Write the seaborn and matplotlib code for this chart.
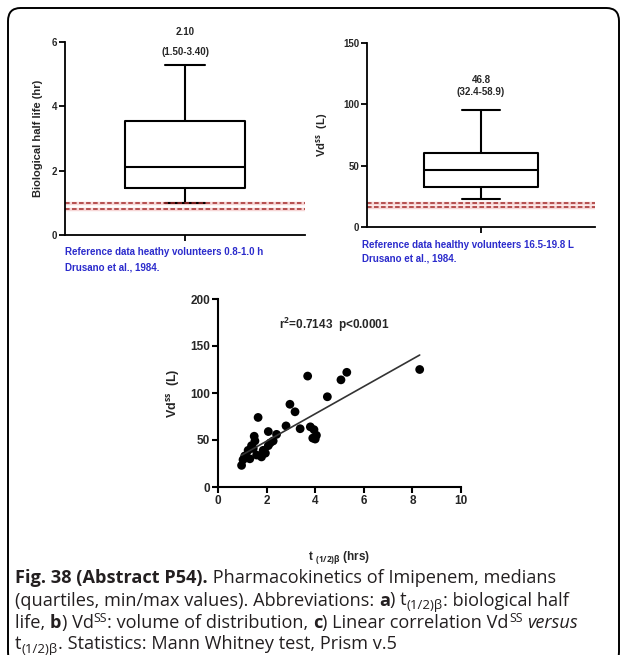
import numpy as np
import pandas as pd
import seaborn as sns
import matplotlib
matplotlib.use("Agg")
import matplotlib.pyplot as plt
from matplotlib.patches import FancyBboxPatch

# ---------------- data ----------------
# box summaries: min, Q1, median, Q3, max
halflife_box = [1.0, 1.45, 2.10, 3.55, 5.3]
vd_box = [22.5, 32.4, 46.8, 60.0, 95.0]
halflife_ref = [0.8, 1.0]
vd_ref = [16.5, 19.8]
halflife_note = ["2.10", "(1.50-3.40)"]
vd_note = ["46.8", "(32.4-58.9)"]

t_half = [0.97, 1.03, 1.10, 1.17, 1.24, 1.31, 1.38, 1.45, 1.49, 1.52, 1.59,
          1.65, 1.79, 1.86, 1.95, 2.07, 2.07, 2.15, 2.27, 2.41, 2.80, 2.96,
          3.17, 3.38, 3.69, 3.80, 3.95, 3.90, 4.05, 4.00, 4.50, 5.06, 5.30, 8.30]
vd_ss = [23, 29, 33, 32, 39, 30, 44, 41, 54, 49, 34,
         74, 32, 39, 36, 44, 59, 47, 49, 56, 65, 88,
         80, 62, 118, 64, 61, 52, 55, 51, 96, 114, 122, 125]

W, H = 627, 655
sns.set_style("ticks")
plt.rcParams["font.family"] = ["Liberation Sans", "DejaVu Sans"]
plt.rcParams["mathtext.fontset"] = "custom"
plt.rcParams["mathtext.rm"] = "Open Sans"
plt.rcParams["mathtext.it"] = "Open Sans:italic"
plt.rcParams["mathtext.bf"] = "Open Sans:bold"

fig = plt.figure(figsize=(W / 100, H / 100), dpi=100)
fig.patch.set_facecolor("white")


def ax_px(left, top, right, bottom):
    return fig.add_axes([left / W, 1 - bottom / H, (right - left) / W, (bottom - top) / H])


def prism(ax, lw=1.3, size=7):
    sns.despine(ax=ax)
    for s in ("left", "bottom"):
        ax.spines[s].set_linewidth(lw)
        ax.spines[s].set_color("black")
    ax.tick_params(axis="both", direction="out", length=4, width=lw, color="black",
                   labelsize=size, pad=1.5)
    for lab in ax.get_xticklabels() + ax.get_yticklabels():
        lab.set_fontweight("bold")
    ax.set_facecolor("white")


tickfont = dict(fontsize=7, fontweight="bold")
refcol = "#a32a2a"
bluecol = "#2b2bcc"

# ---------------- panel a ----------------
axA = ax_px(65, 42, 305, 235)
sns.boxplot(y=halflife_box, ax=axA, fill=False, color="black", linecolor="black",
            linewidth=1.5, width=1.0, whis=(0, 100), capwidths=0.33)
for v in halflife_ref:
    axA.axhline(v, color="#f0b0b0", lw=2.5, alpha=0.5, zorder=1)
    axA.axhline(v, color=refcol, lw=1.1, ls=(0, (3, 1.6)), zorder=2)
axA.set_xlim(-1, 1)
axA.set_ylim(0, 6)
axA.set_yticks([0, 2, 4, 6])
axA.set_xticks([0])
axA.set_xticklabels([""])
axA.set_ylabel("Biological half life (hr)", fontsize=8, fontweight="bold")
axA.yaxis.set_label_coords(-0.092, 0.5)
prism(axA)
axA.text(0, 6.3, halflife_note[0], ha="center", va="center", **tickfont, clip_on=False)
axA.text(0, 5.68, halflife_note[1], ha="center", va="center", **tickfont, clip_on=False)

# ---------------- panel b ----------------
axB = ax_px(367, 43, 595, 227)
sns.boxplot(y=vd_box, ax=axB, fill=False, color="black", linecolor="black",
            linewidth=1.5, width=1.0, whis=(0, 100), capwidths=0.33)
for v in vd_ref:
    axB.axhline(v, color="#f0b0b0", lw=2.5, alpha=0.5, zorder=1)
    axB.axhline(v, color=refcol, lw=1.1, ls=(0, (3, 1.6)), zorder=2)
axB.set_xlim(-1, 1)
axB.set_ylim(0, 150)
axB.set_yticks([0, 50, 100, 150])
axB.set_xticks([0])
axB.set_xticklabels([""])
axB.set_ylabel(r"Vd$^{\mathbf{ss}}$  (L)", fontsize=8, fontweight="bold")
axB.yaxis.set_label_coords(-0.162, 0.5)
prism(axB)
axB.text(0, 120, vd_note[0], ha="center", va="center", **tickfont, clip_on=False)
axB.text(0, 110, vd_note[1], ha="center", va="center", **tickfont, clip_on=False)

# reference notes
fig.text(65 / W, 1 - 252 / H, "Reference data heathy volunteers 0.8-1.0 h",
         color=bluecol, fontsize=7, fontweight="bold", va="center", ha="left")
fig.text(65 / W, 1 - 267 / H, "Drusano et al., 1984.",
         color=bluecol, fontsize=7, fontweight="bold", va="center", ha="left")
fig.text(362 / W, 1 - 245 / H, "Reference data healthy volunteers 16.5-19.8 L",
         color=bluecol, fontsize=7, fontweight="bold", va="center", ha="left")
fig.text(362 / W, 1 - 259 / H, "Drusano et al., 1984.",
         color=bluecol, fontsize=7, fontweight="bold", va="center", ha="left")

# ---------------- panel c ----------------
axC = ax_px(218, 299, 461, 487)
sns.regplot(x=t_half, y=vd_ss, ax=axC, ci=None,
            scatter_kws=dict(s=40, color="black", edgecolor="none", alpha=1),
            line_kws=dict(color="#333333", lw=1.2))
axC.set_xlim(0, 10)
axC.set_ylim(0, 200)
axC.set_xticks([0, 2, 4, 6, 8, 10])
axC.set_yticks([0, 50, 100, 150, 200])
axC.set_ylabel(r"Vd$^{\mathbf{ss}}$  (L)", fontsize=9, fontweight="bold")
axC.yaxis.set_label_coords(-0.15, 0.5)
axC.set_xlabel(r"t $_{\mathbf{(1/2)\beta}}$ (hrs)", fontsize=8.5, fontweight="bold")
axC.xaxis.set_label_coords(0.5, -0.33)
prism(axC, lw=1.5, size=8.5)
axC.text(0.48, 0.863, r"r$^{\mathbf{2}}$=0.7143  p<0.0001", transform=axC.transAxes,
         ha="center", va="center", fontsize=8.5, fontweight="bold")

# ---------------- caption (segment by segment) ----------------
capcol = "#231f20"
capsize = 13.1
cap_x = 15
cap_y = [583, 605.5, 628, 649]
r = fig.canvas.get_renderer()

N = dict()
B = dict(fontweight="bold")
I = dict(fontstyle="italic")
SUB = dict(scale=0.72, dy=-3.5)
SUP = dict(scale=0.68, dy=6.5)


def seg_kw(style):
    kw = dict(family="Open Sans", color=capcol, va="baseline", ha="left",
              fontsize=capsize * style.get("scale", 1.0))
    for k in ("fontweight", "fontstyle"):
        if k in style:
            kw[k] = style[k]
    return kw


def seg_width(s, style):
    kw = seg_kw(style)
    t = fig.text(0, 0, "|" + s + "|", **kw)
    w = t.get_window_extent(renderer=r).width
    t.remove()
    t2 = fig.text(0, 0, "||", **kw)
    w2 = t2.get_window_extent(renderer=r).width
    t2.remove()
    return w - w2


def draw_line(y, segs):
    x = cap_x
    for s, style in segs:
        fig.text(x / W, 1 - (y - style.get("dy", 0)) / H, s, **seg_kw(style))
        x += seg_width(s, style)


caption = [
    [("Fig. 38 (Abstract P54).", B), (" Pharmacokinetics of Imipenem, medians", N)],
    [("(quartiles, min/max values). Abbreviations: ", N), ("a", B), (") t", N),
     ("(1/2)β", SUB), (": biological half", N)],
    [("life, ", N), ("b", B), (") Vd", N), ("SS", SUP), (": volume of distribution, ", N),
     ("c", B), (") Linear correlation Vd", N), ("SS", SUP), (" ", N), ("versus", I)],
    [("t", N), ("(1/2)β", SUB), (". Statistics: Mann Whitney test, Prism v.5", N)],
]
for y, segs in zip(cap_y, caption):
    draw_line(y, segs)

# border
border = FancyBboxPatch((8 / W, -10 / H), (619 - 8) / W, (655 + 10 - 8) / H,
                        boxstyle="round,pad=0,rounding_size=0.02",
                        transform=fig.transFigure, fill=False, edgecolor="black",
                        lw=1.4, clip_on=False)
fig.add_artist(border)

fig.savefig("out.png", dpi=100, facecolor="white")
